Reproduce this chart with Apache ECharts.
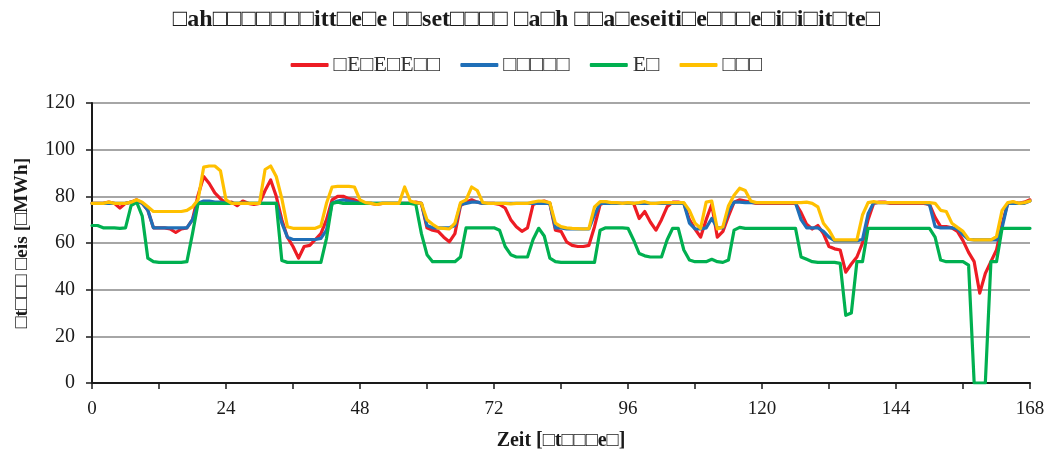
<!DOCTYPE html>
<html>
<head>
<meta charset="utf-8">
<script src="https://cdn.jsdelivr.net/npm/echarts@6/dist/echarts.min.js"></script>
<style>
  html, body { margin: 0; padding: 0; background: #ffffff; }
  #chart { width: 1053px; height: 457px; }
</style>
</head>
<body>
<div id="chart"></div>
<script>
// Hourly price series over one week (hour 0 .. 168), value in [/MWh]
const titleText = '□ah□□□□□□□itt□e□e □□set□□□□ □a□h □□a□eseiti□e□□□e□i□i□it□te□';
const xAxisName = 'Zeit [□t□□□e□]';
const yAxisName = '□t□□□ □eis [□MWh]';
const seriesNames = ['□E□E□E□□', '□□□□□', 'E□', '□□□'];
const seriesColors = ['#ed1c24', '#1f6fb8', '#00b050', '#ffc000'];
const xTicks = [0, 24, 48, 72, 96, 120, 144, 168];

const redSeries = [
  77, 77, 77, 77.5, 77, 75, 77, 77.5, 78.5, 77, 74, 66.5,
  66.5, 66.5, 66, 64.5, 66, 66.5, 70, 80.5, 88.5, 85.5, 81.5, 79,
  77, 77.5, 76, 78, 77, 76.5, 77, 82.5, 87, 80, 70, 62.5,
  58.5, 53.5, 58.5, 59, 61.5, 64, 70, 78.5, 80, 80, 79, 78.5,
  77.5, 77, 77, 76.5, 77, 77, 77, 77, 77, 77, 77.5, 77,
  66.5, 65.5, 65, 62.5, 60.5, 64, 76, 77.5, 78.5, 77.5, 77, 77,
  77, 76.5, 75, 70, 67, 65, 66.5, 76.5, 77.5, 78, 77, 65.5,
  65, 60.5, 59, 58.5, 58.5, 59, 67, 76.5, 77.5, 77, 77, 77,
  77, 77, 70.5, 73.5, 69, 65.5, 70, 75.5, 77.5, 77.5, 77, 70,
  66, 62.5, 70, 76.5, 62.5, 65, 71.5, 77.5, 78.5, 78, 77.5, 77,
  77, 77, 77, 77, 77, 77, 77, 73, 68, 66, 67.5, 64,
  58.5, 57.5, 57, 47.5, 51, 54, 60, 70, 77, 77.5, 77.5, 77,
  77, 77, 77, 77, 77, 77, 76.5, 71, 67, 67, 66.5, 65,
  61, 56, 52, 38.5, 47, 52, 57, 68, 77, 77.5, 77, 77.5,
  78.5
];

const blueSeries = [
  77, 77, 77, 77, 77, 77, 77, 77.5, 78, 77, 74, 66.5,
  66.5, 66.5, 66.5, 66.5, 66.5, 66.5, 70, 77, 78, 78, 77.5, 77.5,
  77, 77, 77, 77, 77, 77, 77, 77, 77, 77, 68.5, 62.5,
  61.5, 61.5, 61.5, 61.5, 61.5, 62, 65.5, 77, 78, 78.5, 78, 77.5,
  77, 77, 77, 77, 77, 77, 77, 77, 77, 77, 77, 77,
  67.5, 66.5, 66.5, 66.5, 66.5, 67.5, 76.5, 77, 77.5, 77.5, 77, 77,
  77, 77, 77, 77, 77, 77, 77, 77, 77, 77, 77, 66.5,
  66.5, 66, 66, 66, 66, 66, 72, 77, 77, 77, 77, 77,
  77, 77, 77, 77, 77, 77, 77, 77, 77, 77, 77, 68.5,
  66, 66, 66.5, 70.5, 66.5, 66.5, 73.5, 77.5, 77.5, 77.3, 77.3, 77.3,
  77.3, 77.3, 77.3, 77.3, 77.3, 77.3, 77.3, 70, 66.5, 66.5, 66.5, 65,
  62.5, 61, 61, 61, 61, 61, 61.5, 72.5, 77.3, 77.3, 77.3, 77.3,
  77.3, 77.3, 77.3, 77.3, 77.3, 77.3, 76.5, 67, 66.5, 66.5, 66.5, 66,
  63.5, 61.5, 61.3, 61.3, 61.3, 61.3, 61.3, 66.5, 77, 77, 77, 77,
  78
];

const greenSeries = [
  67.5, 67.5, 66.5, 66.5, 66.5, 66.3, 66.5, 76, 77.5, 71.5, 53.5, 52,
  51.7, 51.7, 51.7, 51.7, 51.7, 52, 64, 77, 77, 77, 77, 77,
  77, 77, 77, 77, 77, 77, 77, 77, 77, 77, 52.5, 51.7,
  51.7, 51.7, 51.7, 51.7, 51.7, 51.7, 62, 77, 77.5, 77, 77, 77,
  77, 77, 77, 77, 77, 77, 77, 77, 77, 77, 76.5, 64,
  55, 52, 52, 52, 52, 52, 54, 66.5, 66.5, 66.5, 66.5, 66.5,
  66.5, 65.5, 58.5, 55, 54, 54, 54, 61.5, 66.3, 63, 53.5, 52,
  51.7, 51.7, 51.7, 51.7, 51.7, 51.7, 51.7, 65.5, 66.5, 66.5, 66.5, 66.5,
  66.3, 61.3, 55.5, 54.5, 54, 54, 54, 61.3, 66.3, 66.3, 57, 52.7,
  52, 52, 52, 53, 52, 51.7, 52.7, 65.5, 66.7, 66.3, 66.3, 66.3,
  66.3, 66.3, 66.3, 66.3, 66.3, 66.3, 66.3, 54, 53, 52, 51.7, 51.7,
  51.7, 51.7, 51.3, 29, 30, 52, 52, 66.3, 66.3, 66.3, 66.3, 66.3,
  66.3, 66.3, 66.3, 66.3, 66.3, 66.3, 66.3, 62.5, 52.7, 52, 52, 52,
  52, 50.5, 0, 0, 0, 52, 52, 66.3, 66.3, 66.3, 66.3, 66.3,
  66.3
];

const yellowSeries = [
  77, 77, 77, 77.5, 77, 77, 77, 77.5, 78.5, 77.5, 75.5, 73.5,
  73.5, 73.5, 73.5, 73.5, 73.5, 74, 75.5, 78.5, 92.5, 93, 93, 91,
  78.5, 77, 77, 77, 77, 77, 77, 91.5, 93, 88.5, 79, 67,
  66.3, 66.3, 66.3, 66.3, 66.3, 67.3, 77, 84, 84.3, 84.3, 84.3, 84,
  78.5, 77.3, 77, 76.5, 77, 77, 77, 77, 84, 78, 77.3, 77,
  70, 68, 66.5, 66.3, 66, 68.5, 77.3, 78.5, 84, 82.5, 77.3, 77,
  77, 77, 77, 76.8, 77, 77, 77, 77.5, 78, 77.8, 77.3, 68.5,
  67, 66.5, 66.3, 66.2, 66, 66.2, 75.5, 77.7, 77.7, 77.3, 77.3, 77,
  77.3, 77, 77.3, 77.7, 77, 77, 77.3, 77.3, 77.3, 77.3, 77.3, 74,
  68.5, 66.3, 77.5, 78, 66, 67, 76, 80.5, 83.5, 82.5, 78, 77.3,
  77.3, 77.3, 77.3, 77.3, 77.3, 77.3, 77.3, 77.3, 77.5, 77, 75.5, 68.5,
  65.5, 61.3, 61.3, 61.3, 61.3, 61.3, 72, 77.3, 77.7, 77.3, 77.3, 77.3,
  77.3, 77.3, 77.3, 77.3, 77.3, 77.3, 77.3, 77, 74, 73.5, 68.5, 66.7,
  65, 61.6, 61.3, 61.3, 61.3, 61.3, 62.7, 74, 77.3, 77.7, 77, 77.3,
  78
];

const allSeries = [redSeries, blueSeries, greenSeries, yellowSeries];
const serif = '"Liberation Serif", "Times New Roman", serif';

const chart = echarts.init(document.getElementById('chart'), null, { renderer: 'canvas' });

chart.setOption({
  animation: false,
  backgroundColor: '#ffffff',
  title: {
    text: titleText,
    left: 'center',
    top: 3,
    textStyle: { fontFamily: serif, fontSize: 24, fontWeight: 'bold', color: '#1a1a1a' }
  },
  legend: {
    top: 49,
    left: 'center',
    itemWidth: 38,
    itemHeight: 4,
    itemGap: 20,
    icon: 'roundRect',
    textStyle: { fontFamily: serif, fontSize: 22, color: '#333333' },
    data: seriesNames
  },
  grid: { left: 92, right: 23, top: 103, bottom: 74, containLabel: false },
  xAxis: {
    type: 'value',
    min: 0,
    max: 168,
    interval: 12,
    name: xAxisName,
    nameLocation: 'middle',
    nameGap: 48,
    nameTextStyle: { fontFamily: serif, fontSize: 20, fontWeight: 'bold', color: '#1a1a1a' },
    axisLine: { show: true, onZero: false, lineStyle: { color: '#1a1a1a', width: 2 } },
    axisTick: { show: true, inside: false, length: 6, lineStyle: { color: '#1a1a1a', width: 1.5 } },
    axisLabel: {
      fontFamily: serif, fontSize: 19, color: '#1a1a1a', margin: 17,
      formatter: v => (xTicks.indexOf(v) >= 0 ? String(v) : '')
    },
    splitLine: { show: false }
  },
  yAxis: {
    type: 'value',
    min: 0,
    max: 120,
    interval: 20,
    name: yAxisName,
    nameLocation: 'middle',
    nameGap: 60,
    nameRotate: 90,
    nameTextStyle: { fontFamily: serif, fontSize: 19.5, fontWeight: 'bold', color: '#1a1a1a' },
    axisLine: { show: true, lineStyle: { color: '#1a1a1a', width: 2 } },
    axisTick: { show: true, inside: false, length: 6, lineStyle: { color: '#1a1a1a', width: 1.5 } },
    axisLabel: { fontFamily: serif, fontSize: 20, color: '#1a1a1a', margin: 17 },
    splitLine: { show: true, lineStyle: { color: '#a6a6a6', width: 2 } }
  },
  series: allSeries.map((values, k) => ({
    name: seriesNames[k],
    type: 'line',
    data: values.map((v, h) => [h, v]),
    showSymbol: false,
    symbol: 'none',
    smooth: false,
    color: seriesColors[k],
    lineStyle: { color: seriesColors[k], width: 3.2, cap: 'round', join: 'round' },
    z: 2 + k
  }))
});
</script>
</body>
</html>
